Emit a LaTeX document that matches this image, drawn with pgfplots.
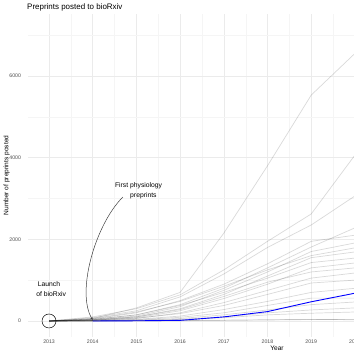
\documentclass[border=0pt]{standalone}
\usepackage{pgfplots}
\pgfplotsset{compat=1.18}
\usepackage{fontspec}
\setmainfont{Liberation Sans}
\usetikzlibrary{arrows.meta}
\definecolor{gridmaj}{RGB}{235,235,235}
\definecolor{gridmin}{RGB}{245,245,245}
\definecolor{ticktxt}{RGB}{77,77,77}
\begin{document}
\begin{tikzpicture}[x=1bp,y=1bp]
\begin{axis}[
  at={(28bp,17bp)}, anchor=south west,
  scale only axis, width=498bp, height=323bp,
  xmin=2012.519, xmax=2023.915, ymin=-392, ymax=7515,
  xtick={2013,2014,...,2023}, minor xtick={2012.5,2013.5,...,2023.5},
  ytick={0,2000,4000,6000}, minor ytick={1000,3000,5000,7000},
  grid=both,
  major grid style={gridmaj, line width=0.55bp},
  minor grid style={gridmin, line width=0.3bp},
  axis line style={draw=none},
  major tick length=0pt, minor tick length=0pt,
  tick style={draw=none},
  /pgf/number format/assume math mode=true,
  /pgf/number format/1000 sep={},
  x tick label style={font=\fontsize{5.2}{6}\selectfont, text=ticktxt, yshift=0.3bp},
  y tick label style={font=\fontsize{5.2}{6}\selectfont, text=ticktxt, xshift=-3.5bp},
  every axis title shift=0pt,
  title={Preprints posted to bioRxiv},
  title style={font=\fontsize{8}{9.6}\selectfont, at={(axis description cs:-0.002,1.0139)}, anchor=base west, inner sep=0pt},
  xlabel={Year},
  xlabel style={font=\fontsize{6.6}{8}\selectfont, at={(axis description cs:0.5,-0.0425)}, anchor=base, inner sep=0pt},
  ylabel={Number of preprints posted},
  ylabel style={font=\fontsize{6.6}{8}\selectfont, at={(axis description cs:-0.0396,0.5)}, anchor=base, inner sep=0pt},
  gl/.style={no marks, draw=black, draw opacity=0.15, line width=0.7bp},
]
% grey subject-area series
\addplot[gl] coordinates {(2013,0)(2014,60)(2015,320)(2016,700)(2017,2150)(2018,3800)(2019,5530)(2020,6550)};
\addplot[gl] coordinates {(2013,0)(2014,100)(2015,300)(2016,640)(2017,1250)(2018,1950)(2019,2620)(2020,4060)};
\addplot[gl] coordinates {(2013,0)(2014,80)(2015,250)(2016,590)(2017,1150)(2018,1800)(2019,2350)(2020,3060)};
\addplot[gl] coordinates {(2013,0)(2014,40)(2015,150)(2016,400)(2017,800)(2018,1300)(2019,1810)(2020,2280)};
\addplot[gl] coordinates {(2013,0)(2014,50)(2015,200)(2016,500)(2017,900)(2018,1400)(2019,1950)(2020,2100)};
\addplot[gl] coordinates {(2013,0)(2014,30)(2015,120)(2016,350)(2017,750)(2018,1200)(2019,1700)(2020,1910)};
\addplot[gl] coordinates {(2013,0)(2014,60)(2015,220)(2016,480)(2017,850)(2018,1250)(2019,1600)(2020,1790)};
\addplot[gl] coordinates {(2013,0)(2014,20)(2015,100)(2016,300)(2017,650)(2018,1100)(2019,1550)(2020,1690)};
\addplot[gl] coordinates {(2013,0)(2014,40)(2015,150)(2016,380)(2017,700)(2018,1050)(2019,1430)(2020,1540)};
\addplot[gl] coordinates {(2013,0)(2014,20)(2015,80)(2016,250)(2017,550)(2018,900)(2019,1300)(2020,1420)};
\addplot[gl] coordinates {(2013,0)(2014,30)(2015,100)(2016,280)(2017,600)(2018,950)(2019,1200)(2020,1300)};
\addplot[gl] coordinates {(2013,0)(2014,10)(2015,60)(2016,200)(2017,450)(2018,750)(2019,1050)(2020,1175)};
\addplot[gl] coordinates {(2013,0)(2014,20)(2015,70)(2016,180)(2017,380)(2018,650)(2019,930)(2020,1000)};
\addplot[gl] coordinates {(2013,0)(2014,10)(2015,40)(2016,120)(2017,280)(2018,480)(2019,700)(2020,800)};
\addplot[gl] coordinates {(2013,0)(2014,5)(2015,30)(2016,90)(2017,200)(2018,380)(2019,560)(2020,560)};
\addplot[gl] coordinates {(2013,0)(2014,5)(2015,20)(2016,60)(2017,150)(2018,270)(2019,400)(2020,465)};
\addplot[gl] coordinates {(2013,0)(2014,5)(2015,15)(2016,40)(2017,100)(2018,200)(2019,270)(2020,320)};
\addplot[gl] coordinates {(2013,0)(2014,2)(2015,10)(2016,30)(2017,80)(2018,150)(2019,190)(2020,220)};
\addplot[gl] coordinates {(2013,0)(2014,2)(2015,5)(2016,10)(2017,20)(2018,30)(2019,40)(2020,30)};
\addplot[gl] coordinates {(2013,0)(2014,1)(2015,3)(2016,8)(2017,15)(2018,25)(2019,35)(2020,40)};
% physiology
\addplot[no marks, draw=blue, line width=0.9bp] coordinates {(2014,0)(2015,5)(2016,15)(2017,100)(2018,230)(2019,470)(2020,680)};
% launch marker
\addplot[only marks, mark=o, mark size=7bp, draw=black, line width=0.5bp] coordinates {(2013,0)};
% annotations
\node[font=\fontsize{6.8}{8}\selectfont] at (axis cs:2013.0,905) {Launch};
\node[font=\fontsize{6.8}{8}\selectfont] at (axis cs:2013.05,660) {of bioRxiv};
\node[font=\fontsize{6.8}{8}\selectfont] at (axis cs:2015.05,3305) {First physiology};
\node[font=\fontsize{6.8}{8}\selectfont] at (axis cs:2015.16,3060) {preprints};
\draw[black!75, line width=0.5bp, -{Stealth[length=3bp,width=2.4bp]}] (axis cs:2014.69,3035) .. controls (axis cs:2014.05,2350) and (axis cs:2013.62,700) .. (axis cs:2014.0,25);
\end{axis}
\pgfresetboundingbox
\path[use as bounding box] (0,0) rectangle (354bp,354bp);
\end{tikzpicture}
\end{document}
